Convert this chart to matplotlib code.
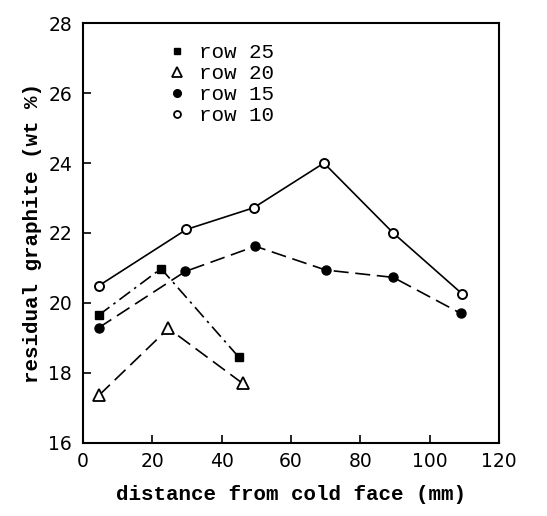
import matplotlib
matplotlib.use("Agg")
import matplotlib.pyplot as plt
from matplotlib.lines import Line2D

# Data
row25_x = [4.5, 22.5, 45]
row25_y = [19.65, 20.98, 18.44]
row20_x = [4.6, 24.6, 46]
row20_y = [17.36, 19.27, 17.7]
row15_x = [4.5, 29.5, 49.7, 70, 89.5, 109]
row15_y = [19.29, 20.9, 21.62, 20.94, 20.73, 19.7]
row10_x = [4.5, 29.8, 49.2, 69.5, 89.5, 109.5]
row10_y = [20.49, 22.1, 22.72, 24.0, 22.0, 20.25]

x_ticks = [0, 20, 40, 60, 80, 100, 120]
y_ticks = [16, 18, 20, 22, 24, 26, 28]
legend_labels = ["row 25", "row 20", "row 15", "row 10"]

mono = "Liberation Mono"
tick_font = "DejaVu Sans"

fig = plt.figure(figsize=(5.47, 5.16), dpi=100)
ax = fig.add_axes([0.152, 0.142, 0.760, 0.813])

ms = 6.5
lw = 1.2
ax.plot(row10_x, row10_y, color="black", lw=lw, ls="-", marker="o",
        mfc="white", mec="black", mew=1.4, ms=ms, zorder=3)
ax.plot(row15_x, row15_y, color="black", lw=lw, ls=(0, (9, 4)), marker="o",
        mfc="black", mec="black", ms=ms, zorder=3)
ax.plot(row25_x, row25_y, color="black", lw=lw, ls=(0, (8, 3, 1.5, 3)), marker="s",
        mfc="black", mec="black", ms=ms - 0.8, zorder=3)
ax.plot(row20_x, row20_y, color="black", lw=lw, ls=(0, (9, 4)), marker="^",
        mfc="white", mec="black", mew=1.3, ms=ms + 1.5, zorder=3)

ax.set_xlim(0, 120)
ax.set_ylim(16, 28)

ax.set_xticks(x_ticks)
ax.set_yticks(y_ticks)
ax.set_xticklabels([str(v) for v in x_ticks], fontsize=13.5, family=tick_font)
ax.set_yticklabels([str(v) for v in y_ticks], fontsize=13.5, family=tick_font)
ax.tick_params(direction="in", length=6, width=1.2, top=False, right=False)
ax.tick_params(axis="x", pad=7)
ax.tick_params(axis="y", pad=8)
# hide tick marks at the corners
for t, v in zip(ax.xaxis.get_major_ticks(), x_ticks):
    if v in (0, 120):
        t.tick1line.set_visible(False)
for t, v in zip(ax.yaxis.get_major_ticks(), y_ticks):
    if v in (16, 28):
        t.tick1line.set_visible(False)

for s in ax.spines.values():
    s.set_linewidth(1.5)

ax.set_xlabel("distance from cold face (mm)", fontsize=15, family=mono,
              fontweight="bold")
ax.xaxis.set_label_coords(0.5, -0.10)
ax.set_ylabel("residual graphite (wt %)", fontsize=15, family=mono,
              fontweight="bold")
ax.yaxis.set_label_coords(-0.10, 0.5)

handles = [
    Line2D([], [], ls="none", marker="s", mfc="black", mec="black", ms=ms - 1.5),
    Line2D([], [], ls="none", marker="^", mfc="white", mec="black", mew=1.3, ms=ms + 1),
    Line2D([], [], ls="none", marker="o", mfc="black", mec="black", ms=ms - 1),
    Line2D([], [], ls="none", marker="o", mfc="white", mec="black", mew=1.3, ms=ms - 1.5),
]
leg = ax.legend(handles, legend_labels, loc="upper left", bbox_to_anchor=(0.20, 0.953),
                frameon=False, handlelength=1.0, handletextpad=0.56,
                labelspacing=0.1, borderpad=0, borderaxespad=0,
                prop={"family": mono, "size": 15})

fig.savefig("out.png", dpi=100)
